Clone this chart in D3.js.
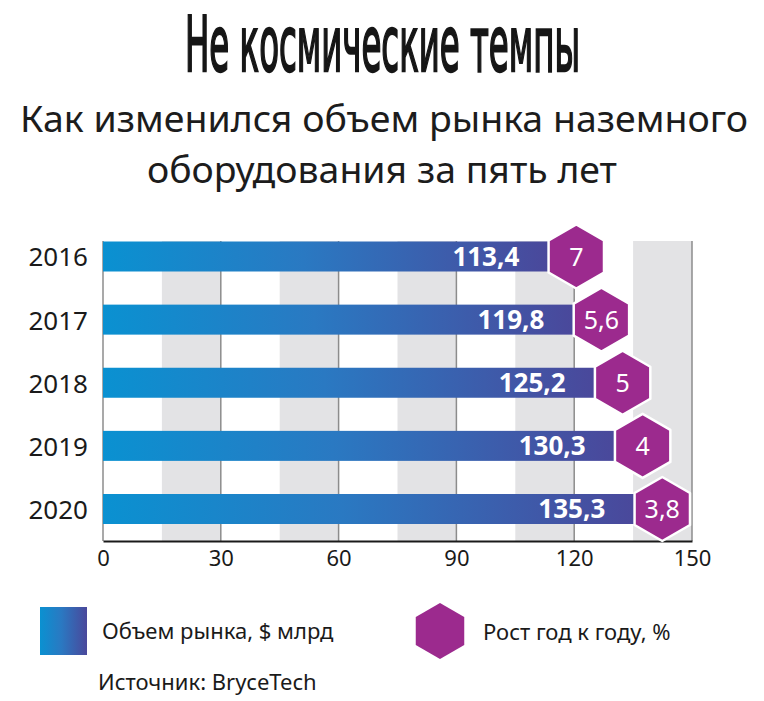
<!DOCTYPE html>
<meta charset="utf-8">
<head>
  <script src="https://cdn.jsdelivr.net/npm/d3@7"></script>
  <style>
    body { margin: 0; background: #fff; }
    text { font-family: "Noto Sans", sans-serif; }
  </style>
</head>
<body>
<script>
// datos
var years = ["2016", "2017", "2018", "2019", "2020"];
var volumes = [113.4, 119.8, 125.2, 130.3, 135.3];
var growth = [7, 5.6, 5, 4, 3.8];
var xTicks = [0, 30, 60, 90, 120, 150];
var shadeStarts = [15, 45, 75, 105, 135];

var W = 764, H = 701;
var top0 = 241, axisY = 541;

var svg = d3.select("body").append("svg")
  .attr("width", W).attr("height", H);

var x = d3.scaleLinear().domain([0, 150]).range([103, 692]);
var y = d3.scalePoint().domain(years).range([256.5, 509]);
var barH = 30;

var fmt = function(v) { return String(v).replace(".", ","); };

// gradiente de las barras
var defs = svg.append("defs");
var grad = defs.append("linearGradient").attr("id", "barGrad");
grad.append("stop").attr("offset", "0%").attr("stop-color", "#0a91d1");
grad.append("stop").attr("offset", "45%").attr("stop-color", "#2a79c2");
grad.append("stop").attr("offset", "100%").attr("stop-color", "#4a489b");

// titulo (fuente condensada, estirada en vertical)
svg.append("text")
  .attr("transform", "translate(185,71) scale(1,1.74)")
  .attr("x", 0).attr("y", 0)
  .attr("textLength", 395).attr("lengthAdjust", "spacingAndGlyphs")
  .style("font-family", "'DejaVu Sans Condensed', sans-serif")
  .style("font-weight", "normal")
  .style("font-size", "44px")
  .attr("fill", "#161616")
  .attr("stroke", "#161616")
  .attr("stroke-width", 1.3)
  .text("Не космические темпы");

// subtitulo
svg.append("text")
  .attr("x", 20).attr("y", 132)
  .attr("textLength", 728).attr("lengthAdjust", "spacingAndGlyphs")
  .style("font-size", "37px")
  .attr("fill", "#1c1c1c")
  .text("Как изменился объем рынка наземного");
svg.append("text")
  .attr("x", 147).attr("y", 183)
  .attr("textLength", 470).attr("lengthAdjust", "spacingAndGlyphs")
  .style("font-size", "37px")
  .attr("fill", "#1c1c1c")
  .text("оборудования за пять лет");

// franjas grises
svg.selectAll("rect.shade")
  .data(shadeStarts)
  .enter().append("rect")
  .attr("class", "shade")
  .attr("x", function(d) { return x(d); })
  .attr("width", function(d) { return x(d + 15) - x(d); })
  .attr("y", top0)
  .attr("height", axisY - top0)
  .attr("fill", "#e3e3e5");

// lineas de la grilla
svg.selectAll("line.grid")
  .data(xTicks)
  .enter().append("line")
  .attr("class", "grid")
  .attr("x1", function(d) { return x(d); })
  .attr("x2", function(d) { return x(d); })
  .attr("y1", top0).attr("y2", axisY)
  .attr("stroke", "#8c8c8c")
  .attr("stroke-width", 1.5);

// eje x
var xAxis = svg.append("g")
  .attr("transform", "translate(0," + axisY + ")")
  .call(d3.axisBottom(x).tickValues(xTicks).tickSize(0).tickPadding(9));
xAxis.select(".domain").attr("stroke", "#1a1a1a").attr("stroke-width", 2.2);
xAxis.selectAll("text")
  .style("font-family", "'Noto Sans', sans-serif")
  .style("font-size", "22px")
  .attr("fill", "#1a1a1a");

// eje y
var yAxis = svg.append("g")
  .attr("transform", "translate(88,0)")
  .call(d3.axisLeft(y).tickSize(0).tickPadding(0));
yAxis.select(".domain").remove();
yAxis.selectAll("text")
  .style("font-family", "'Noto Sans', sans-serif")
  .style("font-size", "26px")
  .attr("fill", "#1a1a1a")
  .attr("dy", "0.36em");

// barras
svg.selectAll("rect.bar")
  .data(years)
  .enter().append("rect")
  .attr("class", "bar")
  .attr("x", x(0))
  .attr("y", function(d) { return y(d) - barH / 2; })
  .attr("width", function(d, i) { return x(volumes[i]) - x(0); })
  .attr("height", barH)
  .attr("fill", "url(#barGrad)");

// valores
svg.selectAll("text.val")
  .data(years)
  .enter().append("text")
  .attr("class", "val")
  .attr("x", function(d, i) { return x(volumes[i]) - 29; })
  .attr("y", function(d) { return y(d); })
  .attr("dy", "0.36em")
  .attr("text-anchor", "end")
  .style("font-weight", "bold")
  .style("font-size", "26px")
  .attr("fill", "#fff")
  .text(function(d, i) { return fmt(volumes[i]); });

// hexagonos
function hexPath(cx, cy, r) {
  var pts = d3.range(6).map(function(k) {
    var a = Math.PI / 3 * k - Math.PI / 2;
    return [cx + r * Math.cos(a), cy + r * Math.sin(a)];
  });
  return "M" + pts.join("L") + "Z";
}

svg.selectAll("path.hex")
  .data(years)
  .enter().append("path")
  .attr("class", "hex")
  .attr("d", function(d, i) { return hexPath(x(volumes[i]) + 28, y(d), 32); })
  .attr("fill", "#9c2a8e")
  .attr("stroke", "#fff")
  .attr("stroke-width", 2.5)
  .attr("stroke-linejoin", "round");

svg.selectAll("text.gr")
  .data(years)
  .enter().append("text")
  .attr("class", "gr")
  .attr("x", function(d, i) { return x(volumes[i]) + 28; })
  .attr("y", function(d) { return y(d); })
  .attr("dy", "0.36em")
  .attr("text-anchor", "middle")
  .style("font-size", "25px")
  .attr("fill", "#fff")
  .text(function(d, i) { return fmt(growth[i]); });

// leyenda
var leg = svg.append("g");
leg.append("rect")
  .attr("x", 40).attr("y", 607).attr("width", 47).attr("height", 48)
  .attr("fill", "url(#barGrad)");
leg.append("text")
  .attr("x", 102).attr("y", 639)
  .style("font-size", "22px").attr("fill", "#1a1a1a")
  .text("Объем рынка, $ млрд");
leg.append("path")
  .attr("d", hexPath(440, 631, 28))
  .attr("fill", "#9c2a8e");
leg.append("text")
  .attr("x", 483).attr("y", 640)
  .style("font-size", "22px").attr("fill", "#1a1a1a")
  .text("Рост год к году, %");

// fuente
svg.append("text")
  .attr("x", 98).attr("y", 690)
  .style("font-size", "22px").attr("fill", "#1a1a1a")
  .text("Источник: BryceTech");
</script>
</body>
